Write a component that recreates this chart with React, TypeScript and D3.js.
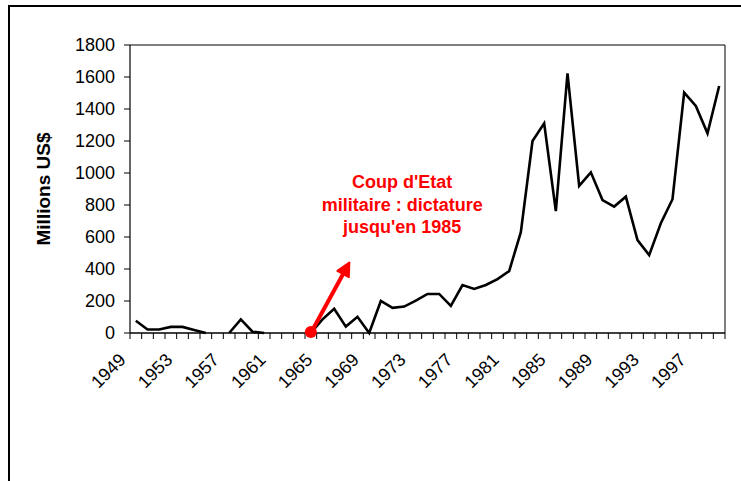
import React from "react";
import * as d3 from "d3";

const years = [
  1949, 1950, 1951, 1952, 1953, 1954, 1955, 1956, 1957, 1958, 1959, 1960, 1961,
  1962, 1963, 1964, 1965, 1966, 1967, 1968, 1969, 1970, 1971, 1972, 1973, 1974,
  1975, 1976, 1977, 1978, 1979, 1980, 1981, 1982, 1983, 1984, 1985, 1986, 1987,
  1988, 1989, 1990, 1991, 1992, 1993, 1994, 1995, 1996, 1997, 1998, 1999,
];

// millions US$, null = no data
const flows: (number | null)[] = [
  77, 22, 22, 38, 38, 19, 0, null, 0, 85, 8, 0, null,
  null, null, 0, 85, 152, 40, 101, 0, 200, 157, 165, 202, 244,
  244, 170, 300, 275, 300, 337, 387, 630, 1200, 1310, 762, 1623, 919,
  1004, 831, 790, 852, 581, 487, 686, 836, 1502, 1419, 1248, 1544,
];

const yTicks = [0, 200, 400, 600, 800, 1000, 1200, 1400, 1600, 1800];
const xLabels = [1949, 1953, 1957, 1961, 1965, 1969, 1973, 1977, 1981, 1985, 1989, 1993, 1997];

const noteLines = ["Coup d'Etat", "militaire : dictature", "jusqu'en 1985"];

const font = "Arial, 'Liberation Sans', sans-serif";

export default function App() {
  const width = 741;
  const height = 481;
  const plot = { left: 130, right: 725, top: 45, bottom: 333 };

  const x = d3.scaleBand<number>().domain(years).range([plot.left, plot.right]).padding(0);
  const y = d3.scaleLinear().domain([0, 1800]).range([plot.bottom, plot.top]);
  const bw = x.bandwidth();
  const cx = (yr: number) => (x(yr) ?? 0) + bw / 2;

  const data = years.map((yr, i) => ({ yr, v: flows[i] }));
  const line = d3
    .line<{ yr: number; v: number | null }>()
    .defined((d) => d.v !== null)
    .x((d) => cx(d.yr))
    .y((d) => y(d.v as number));

  // arrow from the 1964 coup up towards the note
  const ax0 = cx(1964);
  const ay0 = y(0);
  const ax1 = cx(1964) + bw * 3.3;
  const ay1 = y(440);
  const dx = ax1 - ax0;
  const dy = ay1 - ay0;
  const len = Math.sqrt(dx * dx + dy * dy);
  const ux = dx / len;
  const uy = dy / len;
  const headL = 13;
  const headW = 6.5;
  const bx = ax1 - ux * headL;
  const by = ay1 - uy * headL;
  const head = [
    [ax1, ay1],
    [bx - uy * headW, by + ux * headW],
    [bx + uy * headW, by - ux * headW],
  ];

  const tickXs = [...years.map((yr) => x(yr) ?? 0), plot.right];

  return (
    <svg
      width={width}
      height={height}
      style={{ position: "absolute", left: 0, top: 0, background: "#fff" }}
      fontFamily={font}
    >
      <rect x={0} y={0} width={width} height={height} fill="#fff" />
      {/* outer frame */}
      <path d={`M9,${height + 2} L9,6 L${width + 2},6`} fill="none" stroke="#000" strokeWidth={2} />

      {/* plot frame */}
      <path
        d={`M${plot.left},${plot.top} L${plot.right},${plot.top} L${plot.right},${plot.bottom}`}
        fill="none"
        stroke="#000"
        strokeWidth={1}
      />

      {/* y axis */}
      <line x1={plot.left} x2={plot.left} y1={plot.top} y2={plot.bottom} stroke="#000" strokeWidth={1.2} />
      {yTicks.map((t) => (
        <g key={t}>
          <line x1={plot.left - 6} x2={plot.left} y1={y(t)} y2={y(t)} stroke="#000" strokeWidth={1} />
          <text x={115} y={y(t)} dy="0.36em" textAnchor="end" fontSize={18} fill="#000">
            {t}
          </text>
        </g>
      ))}
      <text
        transform={`translate(50,${(plot.top + plot.bottom) / 2}) rotate(-90)`}
        textAnchor="middle"
        fontSize={19}
        fontWeight="bold"
        fill="#000"
      >
        Millions US$
      </text>

      {/* x axis */}
      <line x1={plot.left} x2={plot.right} y1={plot.bottom} y2={plot.bottom} stroke="#000" strokeWidth={1.5} />
      {tickXs.map((tx, i) => (
        <line key={i} x1={tx} x2={tx} y1={plot.bottom} y2={plot.bottom + 6} stroke="#000" strokeWidth={1} />
      ))}
      {xLabels.map((yr) => (
        <text
          key={yr}
          transform={`translate(${cx(yr) - 9},${plot.bottom + 28}) rotate(-45)`}
          textAnchor="end"
          fontSize={18}
          fill="#000"
        >
          {yr}
        </text>
      ))}

      {/* series */}
      <path d={line(data) ?? ""} fill="none" stroke="#000" strokeWidth={2.6} strokeLinejoin="miter" />

      {/* annotation */}
      <line x1={ax0} y1={ay0} x2={bx} y2={by} stroke="#ff0000" strokeWidth={4} />
      <polygon points={head.map((p) => p.join(",")).join(" ")} fill="#ff0000" stroke="#ff0000" strokeWidth={2} strokeLinejoin="round" />
      <circle cx={ax0} cy={ay0 - 1} r={6} fill="#ff0000" />
      {noteLines.map((s, i) => (
        <text
          key={s}
          x={cx(1972) - 2}
          y={y(905) + i * 22.5}
          textAnchor="middle"
          fontSize={18}
          fontWeight="bold"
          fill="#ff0000"
        >
          {s}
        </text>
      ))}
    </svg>
  );
}
